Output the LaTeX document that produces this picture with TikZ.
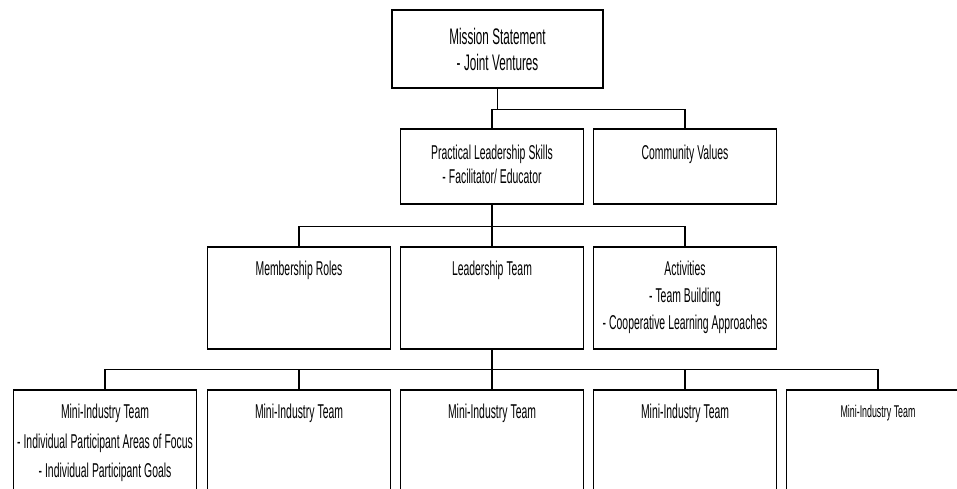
\documentclass[tikz,border=0pt]{standalone}
\usepackage{fontspec}
\setmainfont{Liberation Sans}[FakeStretch=0.52]
\newcommand\boxfont[2]{\fontsize{#1}{#2}\selectfont\fontdimen2\font=0.15em\relax}
\begin{document}
\begin{tikzpicture}[x=1pt, y=-1pt,
    orgbox/.style={draw, line width=1.5pt, anchor=north, align=flush center,
        inner xsep=0pt, inner ysep=0pt, text width=183pt, text height=29pt,
        font=\boxfont{20}{27}},
    rowtwo/.style={orgbox, text height=31pt, text depth=44pt, font=\boxfont{20}{24}},
    rowthree/.style={orgbox, text depth=73pt},
    rowfour/.style={orgbox, text depth=91pt, font=\boxfont{20}{29.5}},
    link/.style={line width=1.4pt}]
    \useasboundingbox (0,0) rectangle (957,488);
    \clip (0,0) rectangle (957,488);

    % top level
    \node[orgbox, text width=211pt, text height=35pt, text depth=43pt,
        font=\boxfont{22.5}{26}] (mission) at (497.5,9) {Mission Statement\\- Joint Ventures};

    % second row
    \node[rowtwo] (skills) at (492,128) {Practical Leadership Skills\\- Facilitator/ Educator};
    \node[rowtwo] (values) at (685,128) {Community Values};

    % third row
    \node[rowthree] (roles)  at (299,246) {Membership Roles};
    \node[rowthree] (leader) at (492,246) {Leadership Team};
    \node[rowthree] (activ)  at (685,246) {Activities\\- Team Building\\- Cooperative Learning Approaches};

    % fourth row
    \node[rowfour] (minia) at (105,389) {Mini-Industry Team\\- Individual Participant Areas of Focus\\- Individual Participant Goals};
    \node[rowfour] (minib) at (299,389) {Mini-Industry Team};
    \node[rowfour] (minic) at (492,389) {Mini-Industry Team};
    \node[rowfour] (minid) at (685,389) {Mini-Industry Team};
    \node[rowfour, text height=28pt, font=\boxfont{17}{20}] (minie) at (878,389) {Mini-Industry Team};

    % connectors
    \foreach \child in {skills, values}
        \draw[link] (mission.south) -- ++(0,21) -| (\child.north);
    \foreach \child in {roles, leader, activ}
        \draw[link] (skills.south) -- ++(0,22) -| (\child.north);
    \foreach \child in {minia, minib, minic, minid, minie}
        \draw[link] (leader.south) -- ++(0,20) -| (\child.north);
\end{tikzpicture}
\end{document}
